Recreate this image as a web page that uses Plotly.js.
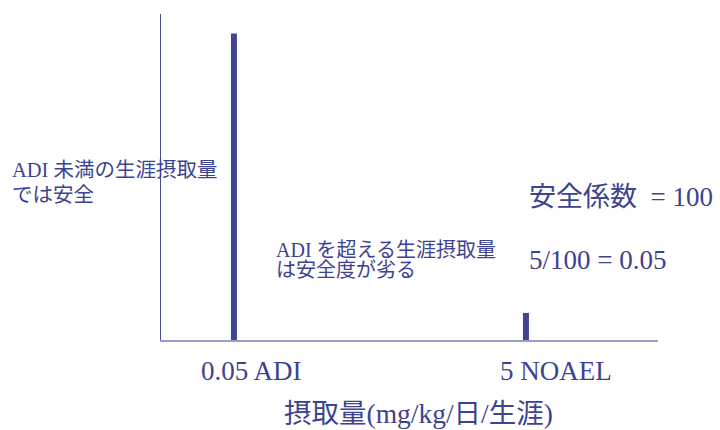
<!DOCTYPE html>
<html>
<head>
<meta charset="utf-8">
<script src="https://cdn.plot.ly/plotly-3.0.1.min.js"></script>
<style>
  html, body { margin: 0; padding: 0; background: #ffffff; }
  #chart { width: 720px; height: 430px; }
</style>
</head>
<body>
<div id="chart"></div>
<script>
// Daily intake levels (mg/kg/day) and their labels
const doseLabels = ['0.05 ADI', '5 NOAEL'];
const doses = [0.05, 5];
// Relative height of each level's bar
const safetyLevel = [94, 8.3];

const navy = '#3d4391';
const textFont = "'Liberation Serif', 'Noto Sans CJK JP', serif";

// plot area: x 161..658, y 14..340 px
const L = 161, R = 658, T = 14, B = 340;
const px = X => (X - L) / (R - L);
const py = Y => (B - Y) / (B - T);

function note(text, X, Y, size, anchor) {
  return {
    text: text, xref: 'paper', yref: 'paper',
    x: px(X), y: py(Y), xanchor: anchor || 'left', yanchor: 'middle',
    showarrow: false, borderpad: 0,
    font: { family: textFont, size: size, color: navy }
  };
}

// log x axis: bars are a fixed 0.041 decades wide (about 6 px)
const halfDecade = 0.041 / 2;
const barWidths = doses.map(d => d * (Math.pow(10, halfDecade) - Math.pow(10, -halfDecade)));

const trace = {
  type: 'bar',
  x: doses,
  y: safetyLevel,
  width: barWidths,
  marker: { color: '#3f4592', line: { width: 0 } },
  hoverinfo: 'skip'
};

const layout = {
  width: 720, height: 430,
  margin: { l: L, r: 720 - R, t: T, b: 430 - B, pad: 0 },
  paper_bgcolor: '#ffffff', plot_bgcolor: '#ffffff',
  showlegend: false,
  xaxis: {
    type: 'log', range: [-1.801, 1.603],
    showgrid: false, zeroline: false, showticklabels: false, ticks: '',
    showline: true, linecolor: '#9b9dc7', linewidth: 2, fixedrange: true
  },
  yaxis: {
    range: [0, 100],
    showgrid: false, zeroline: false, showticklabels: false, ticks: '',
    showline: true, linecolor: '#474d94', linewidth: 1.5, fixedrange: true
  },
  annotations: [
    note(doseLabels[0], 251, 371, 27, 'center'),
    note(doseLabels[1], 556, 371, 27, 'center'),
    note('摂取量(mg/kg/日/生涯)', 418, 413, 27.5, 'center'),
    note('ADI 未満の生涯摂取量', 11, 170, 20.5),
    note('では安全', 11, 195, 20.5),
    note('ADI を超える生涯摂取量', 275, 250, 20),
    note('は安全度が劣る', 275, 270, 20),
    note('安全係数  = 100', 528, 197, 27),
    note('5/100 = 0.05', 528, 260, 27)
  ]
};

Plotly.newPlot('chart', [trace], layout, { staticPlot: true, displayModeBar: false });
</script>
</body>
</html>
